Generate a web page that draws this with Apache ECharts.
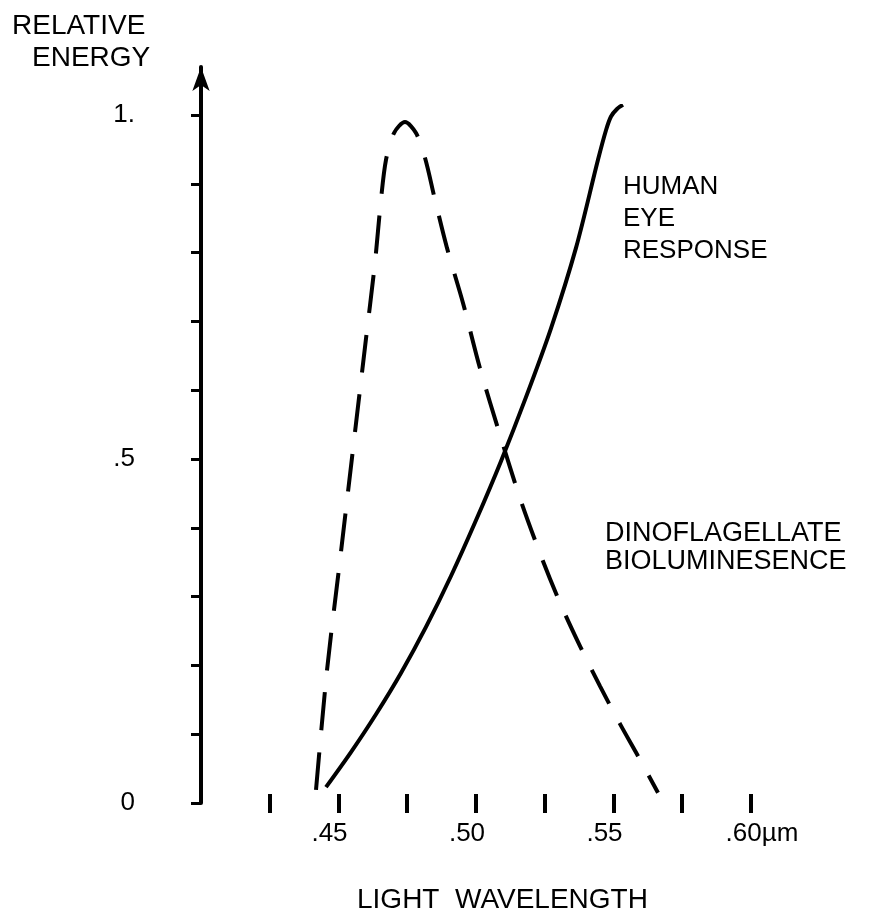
<!DOCTYPE html>
<html>
<head>
<meta charset="utf-8">
<script src="https://cdn.jsdelivr.net/npm/echarts@6/dist/echarts.min.js"></script>
<style>html,body{margin:0;padding:0;background:#fff}#c{width:875px;height:913px}</style>
</head>
<body>
<div id="c"></div>
<script>
// Human eye response (solid) [wavelength µm, relative energy]
const eyeResponse = [
  [0.44545, 0.023], [0.45455, 0.074], [0.46364, 0.129], [0.47273, 0.189],
  [0.48182, 0.256], [0.49091, 0.330], [0.50000, 0.411], [0.50909, 0.497],
  [0.51818, 0.590], [0.52727, 0.690], [0.53636, 0.807], [0.54436, 0.935],
  [0.54727, 0.978], [0.54909, 0.998], [0.55127, 1.009], [0.55345, 1.015]
];
// Dinoflagellate bioluminescence (dashed)
const bioluminescence = [
  [0.44182, 0.019], [0.44582, 0.193], [0.45055, 0.353], [0.45491, 0.502],
  [0.45964, 0.663], [0.46327, 0.786], [0.46545, 0.877], [0.46727, 0.935],
  [0.47018, 0.974], [0.47418, 0.990], [0.47818, 0.974], [0.48145, 0.938],
  [0.48509, 0.877], [0.48945, 0.807], [0.49527, 0.727], [0.50145, 0.632],
  [0.50873, 0.535], [0.51600, 0.443], [0.52327, 0.363], [0.53055, 0.291],
  [0.53782, 0.228], [0.54509, 0.170], [0.55236, 0.115], [0.55964, 0.063],
  [0.56618, 0.015]
];
const yTicks = [0, 0.1, 0.2, 0.3, 0.4, 0.5, 0.6, 0.7, 0.8, 0.9, 1.0];
const yLabelValues = [0, 0.5, 1.0];
const yLabelText = {'0': '0', '0.5': '.5', '1': '1.'};
const xTicks = [0.425, 0.45, 0.475, 0.50, 0.525, 0.55, 0.575, 0.60];
const xLabelValues = [0.45, 0.50, 0.55, 0.60];
const xLabelText = {'0.45': '{n|.45}', '0.5': '{n|.50}', '0.55': '{n|.55}', '0.6': '{u|.60µm}'};

const FONT = 'Liberation Sans, Arial, sans-serif';
const chart = echarts.init(document.getElementById('c'));
const txt = (x, y, s, size, lh) => ({
  type: 'text', left: x, top: y,
  style: { text: s, font: `${size}px ${FONT}`, fill: '#000', lineHeight: lh || size + 5 }
});
chart.setOption({
  animation: false,
  backgroundColor: '#fff',
  grid: { left: 201, right: 96.5, top: 67, bottom: 110 },
  xAxis: {
    type: 'value', min: 0.40, max: 0.61, offset: -9,
    axisLine: { show: false },
    splitLine: { show: false },
    axisTick: { show: true, customValues: xTicks, length: 19, lineStyle: { color: '#000', width: 4 } },
    axisLabel: {
      customValues: xLabelValues, margin: 27, color: '#000', fontSize: 26, fontFamily: FONT,
      formatter: v => xLabelText[String(Math.round(v * 1000) / 1000)] || '',
      rich: {
        n: { fontSize: 26, fontFamily: FONT, color: '#000', padding: [0, 18, 0, 0] },
        u: { fontSize: 26, fontFamily: FONT, color: '#000', padding: [0, 0, 0, 22] }
      }
    }
  },
  yAxis: {
    type: 'value', min: 0, max: 1.07,
    axisLine: { show: true, symbol: ['none', 'arrow'], symbolSize: [13, 24], symbolOffset: [0, 0],
      lineStyle: { color: '#000', width: 4 } },
    splitLine: { show: false },
    axisTick: { show: true, customValues: yTicks, length: 10, lineStyle: { color: '#000', width: 3 } },
    axisLabel: {
      customValues: yLabelValues, margin: 66, color: '#000', fontSize: 26, fontFamily: FONT,
      formatter: v => yLabelText[String(Math.round(v * 10) / 10)] || ''
    }
  },
  series: [
    { type: 'line', name: 'HUMAN EYE RESPONSE', data: eyeResponse, smooth: 0.3,
      showSymbol: false, lineStyle: { color: '#000', width: 4 } },
    { type: 'line', name: 'DINOFLAGELLATE BIOLUMINESENCE', data: bioluminescence, smooth: 0.3,
      showSymbol: false, lineStyle: { color: '#000', width: 4, type: [38, 22] } }
  ],
  graphic: [
    txt(12, 10, 'RELATIVE', 28),
    txt(32, 42, 'ENERGY', 28),
    txt(623, 171, 'HUMAN\nEYE\nRESPONSE', 26, 32),
    txt(605, 520, 'DINOFLAGELLATE\nBIOLUMINESENCE', 27, 28),
    txt(357, 884, 'LIGHT  WAVELENGTH', 28)
  ]
});
</script>
</body>
</html>
